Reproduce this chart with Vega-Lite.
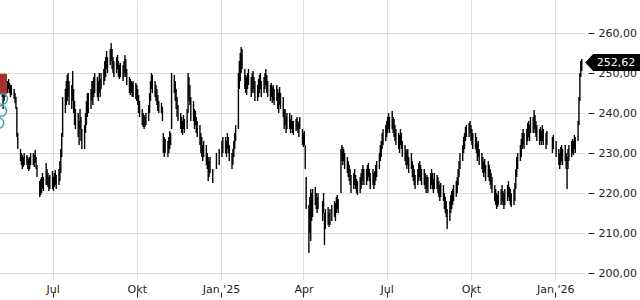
{
"$schema":"https://vega.github.io/schema/vega-lite/v6.json",
"width":585,"height":280,"autosize":{"type":"none"},"padding":{"left":0,"top":0,"right":55,"bottom":20},"background":"white",
"config":{"view":{"stroke":null},"font":"DejaVu Sans","axis":{"labelFont":"DejaVu Sans","labelFontSize":11,"labelColor":"#222222","gridColor":"#dddddd","gridWidth":1,"domain":false,"title":null}},
"datasets":{
"bars":[
{"d":"2024-05-06","l":246,"h":249},{"d":"2024-05-07","l":244,"h":248},{"d":"2024-05-08","l":241,"h":246},{"d":"2024-05-09","l":243,"h":247},{"d":"2024-05-10","l":244,"h":248},
{"d":"2024-05-13","l":245,"h":248},{"d":"2024-05-14","l":246,"h":248.5},{"d":"2024-05-15","l":245,"h":247.5},{"d":"2024-05-16","l":244,"h":247},{"d":"2024-05-17","l":244.5,"h":247},
{"d":"2024-05-20","l":243.5,"h":246},{"d":"2024-05-21","l":242.5,"h":245},{"d":"2024-05-22","l":241,"h":244},{"d":"2024-05-23","l":234,"h":241.5},{"d":"2024-05-24","l":231,"h":235},
{"d":"2024-05-27","l":228,"h":231},{"d":"2024-05-28","l":227,"h":230},{"d":"2024-05-29","l":226,"h":229.5},{"d":"2024-05-30","l":226.5,"h":229},{"d":"2024-05-31","l":227,"h":230},
{"d":"2024-06-03","l":227,"h":229.5},{"d":"2024-06-04","l":226,"h":229},{"d":"2024-06-05","l":225.5,"h":228.5},{"d":"2024-06-06","l":226,"h":229},{"d":"2024-06-07","l":227,"h":230},
{"d":"2024-06-10","l":227,"h":230},{"d":"2024-06-11","l":226.5,"h":229.5},{"d":"2024-06-12","l":227.5,"h":230.75},{"d":"2024-06-13","l":226,"h":229},{"d":"2024-06-14","l":224,"h":227},
{"d":"2024-06-17","l":219,"h":223},{"d":"2024-06-18","l":219.5,"h":223.5},{"d":"2024-06-19","l":220,"h":224},{"d":"2024-06-20","l":221,"h":225},{"d":"2024-06-21","l":220.5,"h":224},
{"d":"2024-06-24","l":222,"h":227.5},{"d":"2024-06-25","l":222,"h":226},{"d":"2024-06-26","l":221.5,"h":225},{"d":"2024-06-27","l":220.5,"h":224},{"d":"2024-06-28","l":221,"h":224.5},
{"d":"2024-07-01","l":221,"h":225.5},{"d":"2024-07-02","l":220.5,"h":224},{"d":"2024-07-03","l":221.5,"h":225},{"d":"2024-07-04","l":222,"h":225.75},{"d":"2024-07-05","l":221,"h":224.5},
{"d":"2024-07-08","l":222,"h":226},{"d":"2024-07-09","l":223,"h":228},{"d":"2024-07-10","l":225,"h":231},{"d":"2024-07-11","l":229,"h":235},{"d":"2024-07-12","l":234,"h":244},
{"d":"2024-07-15","l":240,"h":246},{"d":"2024-07-16","l":242,"h":248},{"d":"2024-07-17","l":243,"h":249.5},{"d":"2024-07-18","l":244,"h":250},{"d":"2024-07-19","l":242,"h":248},
{"d":"2024-07-22","l":241,"h":247},{"d":"2024-07-23","l":243,"h":250.5},{"d":"2024-07-24","l":240,"h":246},{"d":"2024-07-25","l":237,"h":243},{"d":"2024-07-26","l":236,"h":241},
{"d":"2024-07-29","l":234,"h":240},{"d":"2024-07-30","l":232,"h":238},{"d":"2024-07-31","l":236,"h":241},{"d":"2024-08-01","l":233,"h":239},{"d":"2024-08-02","l":231,"h":236},
{"d":"2024-08-05","l":231,"h":237},{"d":"2024-08-06","l":235,"h":240},{"d":"2024-08-07","l":237,"h":243},{"d":"2024-08-08","l":239,"h":245},{"d":"2024-08-09","l":240,"h":245},
{"d":"2024-08-12","l":241,"h":246},{"d":"2024-08-13","l":243,"h":248},{"d":"2024-08-14","l":242,"h":248},{"d":"2024-08-15","l":244,"h":249},{"d":"2024-08-16","l":245,"h":250},
{"d":"2024-08-19","l":244,"h":249},{"d":"2024-08-20","l":243,"h":248},{"d":"2024-08-21","l":245,"h":250},{"d":"2024-08-22","l":244,"h":248.5},{"d":"2024-08-23","l":246,"h":250},
{"d":"2024-08-26","l":247,"h":251},{"d":"2024-08-27","l":248,"h":253},{"d":"2024-08-28","l":249,"h":254},{"d":"2024-08-29","l":251,"h":255.5},{"d":"2024-08-30","l":250,"h":254},
{"d":"2024-09-02","l":252,"h":256},{"d":"2024-09-03","l":253,"h":257.5},{"d":"2024-09-04","l":251,"h":256},{"d":"2024-09-05","l":250,"h":254},{"d":"2024-09-06","l":249,"h":253},
{"d":"2024-09-09","l":250,"h":254},{"d":"2024-09-10","l":251,"h":254.5},{"d":"2024-09-11","l":249,"h":253},{"d":"2024-09-12","l":248.5,"h":252},{"d":"2024-09-13","l":249,"h":252.5},
{"d":"2024-09-16","l":248,"h":252},{"d":"2024-09-17","l":249,"h":253},{"d":"2024-09-18","l":250,"h":254.5},{"d":"2024-09-19","l":249,"h":253.5},{"d":"2024-09-20","l":247,"h":251},
{"d":"2024-09-23","l":245,"h":249},{"d":"2024-09-24","l":244.5,"h":248.5},{"d":"2024-09-25","l":245,"h":248},{"d":"2024-09-26","l":244,"h":247.5},{"d":"2024-09-27","l":244,"h":248},
{"d":"2024-09-30","l":243.5,"h":247.5},{"d":"2024-10-01","l":243,"h":247},{"d":"2024-10-02","l":242,"h":246},{"d":"2024-10-03","l":240,"h":244.5},{"d":"2024-10-04","l":239,"h":243},
{"d":"2024-10-07","l":237,"h":241},{"d":"2024-10-08","l":236.5,"h":240},{"d":"2024-10-09","l":236,"h":239.5},{"d":"2024-10-10","l":236.5,"h":239},{"d":"2024-10-11","l":237,"h":240},
{"d":"2024-10-14","l":238,"h":242},{"d":"2024-10-15","l":240,"h":245},{"d":"2024-10-16","l":243,"h":248},{"d":"2024-10-17","l":246,"h":250},{"d":"2024-10-18","l":245,"h":249.5},
{"d":"2024-10-21","l":244,"h":248},{"d":"2024-10-22","l":243,"h":247},{"d":"2024-10-23","l":242,"h":246},{"d":"2024-10-24","l":240.5,"h":244.5},{"d":"2024-10-25","l":240,"h":243},
{"d":"2024-10-28","l":240,"h":242.5},{"d":"2024-10-29","l":238,"h":241.5},{"d":"2024-10-30","l":230,"h":235},{"d":"2024-10-31","l":229,"h":234},{"d":"2024-11-01","l":230,"h":233.5},
{"d":"2024-11-04","l":229,"h":233},{"d":"2024-11-05","l":230,"h":234},{"d":"2024-11-06","l":231,"h":235.5},{"d":"2024-11-07","l":232,"h":235},{"d":"2024-11-08","l":236,"h":250},
{"d":"2024-11-11","l":245,"h":249.5},{"d":"2024-11-12","l":243,"h":248},{"d":"2024-11-13","l":241,"h":246},{"d":"2024-11-14","l":239,"h":244},{"d":"2024-11-15","l":238,"h":242},
{"d":"2024-11-18","l":236,"h":240},{"d":"2024-11-19","l":235,"h":239},{"d":"2024-11-20","l":234.5,"h":238},{"d":"2024-11-21","l":236,"h":239.5},{"d":"2024-11-22","l":235,"h":238.5},
{"d":"2024-11-25","l":236,"h":241},{"d":"2024-11-26","l":240,"h":250},{"d":"2024-11-27","l":243,"h":249},{"d":"2024-11-28","l":242,"h":247},{"d":"2024-11-29","l":238,"h":244},
{"d":"2024-12-02","l":238,"h":243},{"d":"2024-12-03","l":236,"h":241},{"d":"2024-12-04","l":237,"h":240.5},{"d":"2024-12-05","l":235,"h":239},{"d":"2024-12-06","l":234,"h":238},
{"d":"2024-12-09","l":232,"h":237},{"d":"2024-12-10","l":230,"h":235},{"d":"2024-12-11","l":229,"h":234},{"d":"2024-12-12","l":228,"h":232},{"d":"2024-12-13","l":229,"h":233},
{"d":"2024-12-16","l":227,"h":232},{"d":"2024-12-17","l":226,"h":230},{"d":"2024-12-18","l":223,"h":229},{"d":"2024-12-19","l":224,"h":228},{"d":"2024-12-20","l":225,"h":229},
{"d":"2024-12-23","l":222.5,"h":226},{"d":"2024-12-27","l":226,"h":230},{"d":"2024-12-30","l":227,"h":231},{"d":"2025-01-02","l":229,"h":233},{"d":"2025-01-03","l":230,"h":234},
{"d":"2025-01-06","l":230,"h":234},{"d":"2025-01-07","l":229,"h":233},{"d":"2025-01-08","l":231,"h":235},{"d":"2025-01-09","l":230,"h":234},{"d":"2025-01-10","l":228,"h":232},
{"d":"2025-01-13","l":226,"h":230},{"d":"2025-01-14","l":227,"h":231},{"d":"2025-01-15","l":229,"h":233},{"d":"2025-01-16","l":231,"h":235},{"d":"2025-01-17","l":233,"h":237},
{"d":"2025-01-20","l":236,"h":250},{"d":"2025-01-21","l":246,"h":253},{"d":"2025-01-22","l":248,"h":255},{"d":"2025-01-23","l":250,"h":256.5},{"d":"2025-01-24","l":251,"h":256},
{"d":"2025-01-27","l":246,"h":251},{"d":"2025-01-28","l":245,"h":249.5},{"d":"2025-01-29","l":244.5,"h":249},{"d":"2025-01-30","l":246,"h":250},{"d":"2025-01-31","l":247,"h":251},
{"d":"2025-02-03","l":244,"h":249},{"d":"2025-02-04","l":245,"h":250},{"d":"2025-02-05","l":246,"h":250.5},{"d":"2025-02-06","l":245,"h":249},{"d":"2025-02-07","l":243,"h":248},
{"d":"2025-02-10","l":243,"h":247},{"d":"2025-02-11","l":244,"h":248.5},{"d":"2025-02-12","l":245,"h":249.5},{"d":"2025-02-13","l":246,"h":250},{"d":"2025-02-14","l":244,"h":248},
{"d":"2025-02-17","l":245,"h":249},{"d":"2025-02-18","l":246,"h":250},{"d":"2025-02-19","l":247,"h":251},{"d":"2025-02-20","l":245,"h":249.5},{"d":"2025-02-21","l":244,"h":248},
{"d":"2025-02-24","l":243,"h":247},{"d":"2025-02-25","l":244,"h":247.5},{"d":"2025-02-26","l":242.5,"h":246.5},{"d":"2025-02-27","l":243,"h":247},{"d":"2025-02-28","l":242,"h":246},
{"d":"2025-03-03","l":243,"h":247},{"d":"2025-03-04","l":241,"h":246},{"d":"2025-03-05","l":240,"h":245},{"d":"2025-03-06","l":242,"h":246.5},{"d":"2025-03-07","l":241,"h":245},
{"d":"2025-03-10","l":239,"h":244},{"d":"2025-03-11","l":236,"h":241},{"d":"2025-03-12","l":237,"h":241},{"d":"2025-03-13","l":235,"h":239},{"d":"2025-03-14","l":236,"h":240},
{"d":"2025-03-17","l":236,"h":240},{"d":"2025-03-18","l":235,"h":238.5},{"d":"2025-03-19","l":236,"h":239.5},{"d":"2025-03-20","l":235,"h":238},{"d":"2025-03-21","l":234.5,"h":238},
{"d":"2025-03-24","l":235.5,"h":238.5},{"d":"2025-03-25","l":236,"h":239},{"d":"2025-03-26","l":235,"h":238},{"d":"2025-03-27","l":234,"h":237.5},{"d":"2025-03-28","l":236,"h":239},
{"d":"2025-03-31","l":232,"h":236},{"d":"2025-04-01","l":231.5,"h":235},{"d":"2025-04-02","l":232,"h":235.5},{"d":"2025-04-03","l":226,"h":232},{"d":"2025-04-04","l":216,"h":224},
{"d":"2025-04-07","l":205,"h":217},{"d":"2025-04-08","l":210,"h":219},{"d":"2025-04-09","l":208,"h":221},{"d":"2025-04-10","l":213,"h":220},{"d":"2025-04-11","l":214,"h":221},
{"d":"2025-04-14","l":217,"h":221.5},{"d":"2025-04-15","l":216,"h":220},{"d":"2025-04-16","l":215,"h":219},{"d":"2025-04-17","l":216,"h":220},
{"d":"2025-04-22","l":213,"h":218},{"d":"2025-04-23","l":215,"h":220},{"d":"2025-04-24","l":207,"h":215},{"d":"2025-04-25","l":211,"h":216},
{"d":"2025-04-28","l":212,"h":216.5},{"d":"2025-04-29","l":211.5,"h":215},{"d":"2025-04-30","l":212,"h":216},{"d":"2025-05-02","l":213,"h":217},
{"d":"2025-05-05","l":214,"h":218},{"d":"2025-05-06","l":213,"h":217.5},{"d":"2025-05-07","l":215,"h":219},{"d":"2025-05-08","l":216,"h":219.5},{"d":"2025-05-09","l":215,"h":218.5},
{"d":"2025-05-12","l":220,"h":231},{"d":"2025-05-13","l":228,"h":232},{"d":"2025-05-14","l":227,"h":231.5},{"d":"2025-05-15","l":228,"h":231},{"d":"2025-05-16","l":226,"h":230},
{"d":"2025-05-19","l":225,"h":229},{"d":"2025-05-20","l":224,"h":228},{"d":"2025-05-21","l":223,"h":227},{"d":"2025-05-22","l":222,"h":226},{"d":"2025-05-23","l":220,"h":224.5},
{"d":"2025-05-26","l":221,"h":225},{"d":"2025-05-27","l":222,"h":226},{"d":"2025-05-28","l":221,"h":224.5},{"d":"2025-05-29","l":220,"h":223.5},{"d":"2025-05-30","l":219.5,"h":223},
{"d":"2025-06-02","l":220,"h":224},{"d":"2025-06-03","l":221,"h":225},{"d":"2025-06-04","l":222,"h":226},{"d":"2025-06-05","l":223,"h":227},{"d":"2025-06-06","l":222,"h":226},
{"d":"2025-06-09","l":222,"h":226},{"d":"2025-06-10","l":223,"h":227},{"d":"2025-06-11","l":224,"h":227.5},{"d":"2025-06-12","l":223,"h":226},{"d":"2025-06-13","l":221,"h":225},
{"d":"2025-06-16","l":222,"h":226},{"d":"2025-06-17","l":221,"h":225},{"d":"2025-06-18","l":222,"h":225.5},{"d":"2025-06-19","l":223,"h":227},{"d":"2025-06-20","l":224,"h":228},
{"d":"2025-06-23","l":226,"h":230},{"d":"2025-06-24","l":228,"h":232},{"d":"2025-06-25","l":229,"h":233},{"d":"2025-06-26","l":231,"h":235},{"d":"2025-06-27","l":232,"h":236},
{"d":"2025-06-30","l":233,"h":237},{"d":"2025-07-01","l":234,"h":238},{"d":"2025-07-02","l":235,"h":239},{"d":"2025-07-03","l":236,"h":240},{"d":"2025-07-04","l":235,"h":239},
{"d":"2025-07-07","l":236,"h":240.5},{"d":"2025-07-08","l":235,"h":239},{"d":"2025-07-09","l":234,"h":238.5},{"d":"2025-07-10","l":233,"h":237},{"d":"2025-07-11","l":232,"h":236},
{"d":"2025-07-14","l":231,"h":235},{"d":"2025-07-15","l":230,"h":234.5},{"d":"2025-07-16","l":232,"h":236},{"d":"2025-07-17","l":231,"h":235},{"d":"2025-07-18","l":229,"h":233},
{"d":"2025-07-21","l":228,"h":232},{"d":"2025-07-22","l":227,"h":231},{"d":"2025-07-23","l":226,"h":230.5},{"d":"2025-07-24","l":227,"h":231},{"d":"2025-07-25","l":225,"h":229},
{"d":"2025-07-28","l":226,"h":230},{"d":"2025-07-29","l":224,"h":228},{"d":"2025-07-30","l":223,"h":227},{"d":"2025-07-31","l":222,"h":226},{"d":"2025-08-01","l":221,"h":224.5},
{"d":"2025-08-04","l":222,"h":226},{"d":"2025-08-05","l":223,"h":227.5},{"d":"2025-08-06","l":224,"h":228},{"d":"2025-08-07","l":223,"h":227},{"d":"2025-08-08","l":222,"h":226},
{"d":"2025-08-11","l":222,"h":226},{"d":"2025-08-12","l":221,"h":225},{"d":"2025-08-13","l":220,"h":224},{"d":"2025-08-14","l":221,"h":224.5},{"d":"2025-08-15","l":220,"h":224},
{"d":"2025-08-18","l":221,"h":225},{"d":"2025-08-19","l":222,"h":226},{"d":"2025-08-20","l":221,"h":225},{"d":"2025-08-21","l":220,"h":223.5},{"d":"2025-08-22","l":221,"h":225},
{"d":"2025-08-25","l":221,"h":224.5},{"d":"2025-08-26","l":220,"h":224},{"d":"2025-08-27","l":219,"h":223},{"d":"2025-08-28","l":218,"h":222},{"d":"2025-08-29","l":219,"h":222.5},
{"d":"2025-09-01","l":218,"h":222},{"d":"2025-09-02","l":216,"h":220},{"d":"2025-09-03","l":215,"h":219},{"d":"2025-09-04","l":214,"h":218},{"d":"2025-09-05","l":211,"h":216},
{"d":"2025-09-08","l":213,"h":218},{"d":"2025-09-09","l":215,"h":219.5},{"d":"2025-09-10","l":216,"h":220.5},{"d":"2025-09-11","l":217,"h":221},{"d":"2025-09-12","l":218,"h":222},
{"d":"2025-09-15","l":219,"h":223},{"d":"2025-09-16","l":220,"h":224},{"d":"2025-09-17","l":222,"h":226},{"d":"2025-09-18","l":224,"h":228},{"d":"2025-09-19","l":226,"h":230},
{"d":"2025-09-22","l":228,"h":232},{"d":"2025-09-23","l":230,"h":234},{"d":"2025-09-24","l":231,"h":235},{"d":"2025-09-25","l":233,"h":236.5},{"d":"2025-09-26","l":234,"h":237},
{"d":"2025-09-29","l":234,"h":237.5},{"d":"2025-09-30","l":235,"h":238},{"d":"2025-10-01","l":233,"h":237},{"d":"2025-10-02","l":232,"h":236},{"d":"2025-10-03","l":231,"h":235},
{"d":"2025-10-06","l":231,"h":235},{"d":"2025-10-07","l":230,"h":234},{"d":"2025-10-08","l":228,"h":232.5},{"d":"2025-10-09","l":229,"h":233},{"d":"2025-10-10","l":227,"h":231},
{"d":"2025-10-13","l":226,"h":230},{"d":"2025-10-14","l":225,"h":229},{"d":"2025-10-15","l":224,"h":228},{"d":"2025-10-16","l":225,"h":228.5},{"d":"2025-10-17","l":223,"h":227},
{"d":"2025-10-20","l":224,"h":228},{"d":"2025-10-21","l":223,"h":227},{"d":"2025-10-22","l":222,"h":226},{"d":"2025-10-23","l":221,"h":225},{"d":"2025-10-24","l":220,"h":224},
{"d":"2025-10-27","l":218,"h":222},{"d":"2025-10-28","l":217,"h":221},{"d":"2025-10-29","l":216,"h":220},{"d":"2025-10-30","l":216.5,"h":219.5},{"d":"2025-10-31","l":217,"h":220.5},
{"d":"2025-11-03","l":217,"h":221},{"d":"2025-11-04","l":218,"h":222},{"d":"2025-11-05","l":217,"h":220.5},{"d":"2025-11-06","l":216,"h":220},{"d":"2025-11-07","l":217,"h":221},
{"d":"2025-11-10","l":218,"h":222},{"d":"2025-11-11","l":219,"h":223},{"d":"2025-11-12","l":218,"h":221.5},{"d":"2025-11-13","l":217,"h":221},{"d":"2025-11-14","l":216.5,"h":220},
{"d":"2025-11-17","l":217,"h":221},{"d":"2025-11-18","l":218,"h":222.5},{"d":"2025-11-19","l":221,"h":226},{"d":"2025-11-20","l":224,"h":229},{"d":"2025-11-21","l":226,"h":230},
{"d":"2025-11-24","l":228,"h":232},{"d":"2025-11-25","l":229,"h":233.5},{"d":"2025-11-26","l":231,"h":235},{"d":"2025-11-27","l":232,"h":236},{"d":"2025-11-28","l":231,"h":235},
{"d":"2025-12-01","l":232,"h":236},{"d":"2025-12-02","l":233,"h":237.5},{"d":"2025-12-03","l":234,"h":238},{"d":"2025-12-04","l":233,"h":237},{"d":"2025-12-05","l":235,"h":239},
{"d":"2025-12-08","l":235,"h":239},{"d":"2025-12-09","l":236,"h":240.75},{"d":"2025-12-10","l":235,"h":239.5},{"d":"2025-12-11","l":234,"h":238},{"d":"2025-12-12","l":233,"h":237},
{"d":"2025-12-15","l":232,"h":236},{"d":"2025-12-16","l":233,"h":236.5},{"d":"2025-12-17","l":232,"h":235.5},{"d":"2025-12-18","l":233,"h":237},{"d":"2025-12-19","l":232,"h":236},
{"d":"2025-12-22","l":231,"h":235},{"d":"2025-12-23","l":232,"h":235.5},{"d":"2025-12-29","l":230,"h":234},{"d":"2025-12-30","l":231,"h":234.5},{"d":"2026-01-02","l":229,"h":233},
{"d":"2026-01-05","l":227,"h":231},{"d":"2026-01-06","l":226,"h":230},{"d":"2026-01-07","l":227,"h":231.5},{"d":"2026-01-08","l":228,"h":232},{"d":"2026-01-09","l":227,"h":231},
{"d":"2026-01-12","l":228,"h":232},{"d":"2026-01-13","l":226,"h":230},{"d":"2026-01-14","l":221,"h":229},{"d":"2026-01-15","l":226,"h":231},{"d":"2026-01-16","l":228,"h":232},
{"d":"2026-01-19","l":229,"h":233},{"d":"2026-01-20","l":230,"h":233.5},{"d":"2026-01-21","l":229.5,"h":233},{"d":"2026-01-22","l":231,"h":234.5},{"d":"2026-01-23","l":230,"h":234},
{"d":"2026-01-26","l":233,"h":238},{"d":"2026-01-27","l":237,"h":244},{"d":"2026-01-28","l":243,"h":250},{"d":"2026-01-29","l":249,"h":253},{"d":"2026-01-30","l":250.5,"h":253.5}
],
"last":[{"d":"2026-01-30","v":252.62,"t":"252,62"}],
"sq":[{"d":"2024-05-01","v":247.25}],
"circ":[{"d":"2024-05-07","v":243.5},{"d":"2024-05-06","v":240.5},{"d":"2024-05-03","v":237.5}]
},
"encoding":{
"x":{"field":"d","type":"temporal","title":null,
"scale":{"domain":[{"year":2024,"month":5,"date":4,"hours":14},{"year":2026,"month":2,"date":2,"hours":14}]},
"axis":{"orient":"bottom","values":[{"year":2024,"month":7,"date":1},{"year":2024,"month":10,"date":1},{"year":2025,"month":1,"date":1},{"year":2025,"month":4,"date":1},{"year":2025,"month":7,"date":1},{"year":2025,"month":10,"date":1},{"year":2026,"month":1,"date":1}],
"grid":true,"tickSize":17,"tickDash":[0,12,5],"tickColor":"#222222","labelPadding":-14,"labelFlush":false,"labelOverlap":false,
"labelExpr":"month(datum.value)==0 ? \"Jan '\" + timeFormat(datum.value, '%y') : ['Jan','Feb','Mär','Apr','Mai','Jun','Jul','Aug','Sep','Okt','Nov','Dez'][month(datum.value)]"}}
},
"layer":[
{"data":{"name":"bars"},"mark":{"type":"rule","color":"#000000","strokeWidth":1.4},
"encoding":{"y":{"field":"l","type":"quantitative","title":null,"scale":{"domain":[198.25,268.25],"zero":false,"nice":false},
"axis":{"orient":"right","values":[200,210,220,230,240,250,260],"grid":true,"offset":3,"tickSize":6,"tickColor":"#222222","labelPadding":4,"labelFlush":false,"labelOverlap":false,
"labelExpr":"replace(format(datum.value,'.2f'),'.',',')"}},
"y2":{"field":"h"}}},
{"data":{"name":"sq"},"mark":{"type":"point","shape":"square","filled":true,"color":"#a3302b","opacity":1,"size":420,"clip":true},
"encoding":{"y":{"field":"v","type":"quantitative","title":null,"scale":{"domain":[198.25,268.25],"zero":false,"nice":false}}}},
{"data":{"name":"circ"},"mark":{"type":"point","shape":"circle","filled":false,"color":"#4aa2b0","strokeWidth":1.5,"opacity":1,"size":110,"clip":true},
"encoding":{"y":{"field":"v","type":"quantitative","title":null,"scale":{"domain":[198.25,268.25],"zero":false,"nice":false}}}},
{"data":{"name":"last"},"mark":{"type":"point","shape":"M0.7,0 L2.3,-1.7 L12,-1.7 L12,1.7 L2.3,1.7 Z","filled":true,"color":"#000000","opacity":1,"size":100},
"encoding":{"y":{"field":"v","type":"quantitative","title":null,"scale":{"domain":[198.25,268.25],"zero":false,"nice":false}}}},
{"data":{"name":"last"},"mark":{"type":"text","align":"left","baseline":"middle","dx":15,"color":"#ffffff","fontSize":11,"font":"DejaVu Sans"},
"encoding":{"y":{"field":"v","type":"quantitative","title":null,"scale":{"domain":[198.25,268.25],"zero":false,"nice":false}},"text":{"field":"t"}}}
]
}
